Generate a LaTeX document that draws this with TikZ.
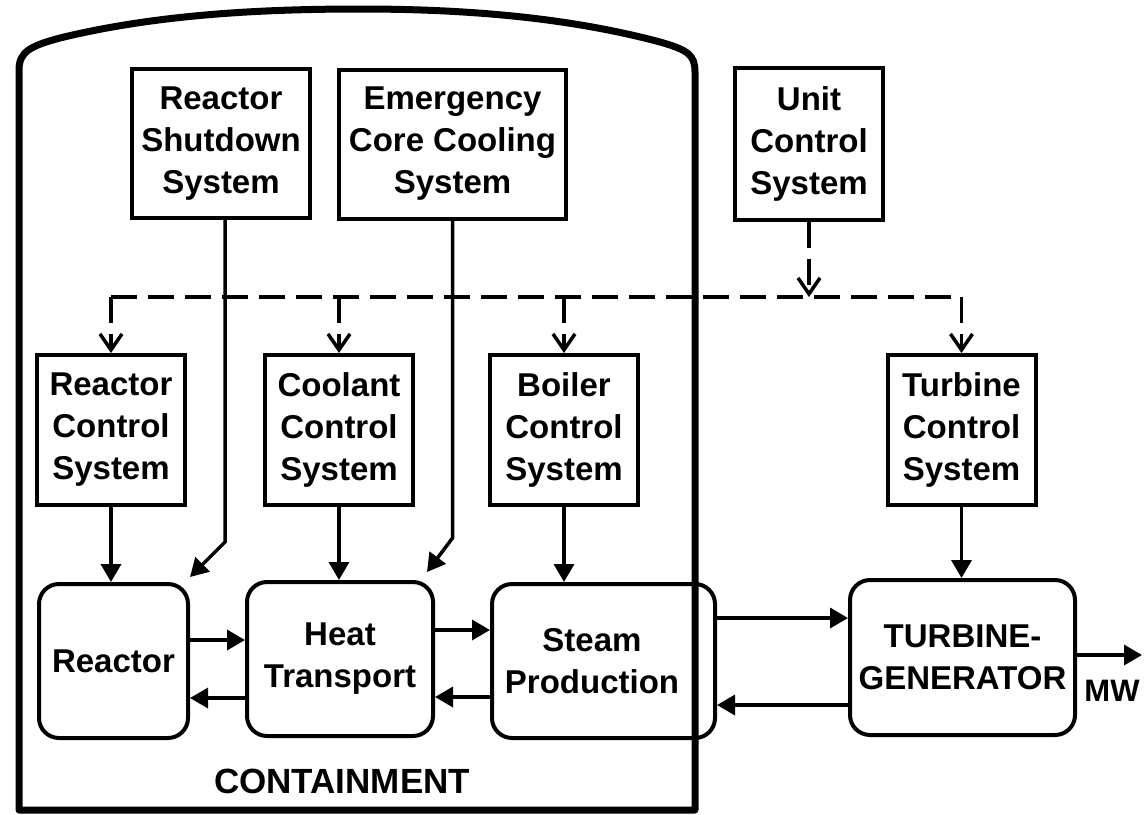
\documentclass[tikz,border=0pt]{standalone}
\usepackage{fontspec}
\setmainfont{Liberation Sans}
\usetikzlibrary{arrows.meta}
\begin{document}
\begin{tikzpicture}[x=1pt,y=-1pt,
  lbl/.style={font=\bfseries\fontsize{33}{42}\selectfont, align=center},
  sqbox/.style={lbl, draw, line width=4pt, inner sep=0pt},
  rbox/.style={lbl, draw, line width=4pt, inner sep=0pt, rounded corners=20pt},
  arr/.style={line width=3.5pt, -{Triangle[length=18pt,width=20pt]}},
  dashline/.style={line width=3.5pt, dash pattern=on 26pt off 11pt},
  dasharr/.style={dashline, -{Straight Barb[length=16pt,width=22pt,line width=3.5pt]}}
]
\useasboundingbox (0,0) rectangle (1147,814);
% top row
\node[sqbox, minimum width=178pt, minimum height=149pt] (rss) at (221,143.5) {Reactor\\Shutdown\\System};
\node[sqbox, minimum width=227pt, minimum height=149pt] (eccs) at (452.5,144) {Emergency\\Core Cooling\\System};
\node[sqbox, minimum width=148pt, minimum height=152pt] (ucs) at (809,144) {Unit\\Control\\System};
% middle row
\node[sqbox, minimum width=148pt, minimum height=150pt] (rcs) at (111,430) {Reactor\\Control\\System};
\node[sqbox, minimum width=148pt, minimum height=150pt] (ccs) at (339,430) {Coolant\\Control\\System};
\node[sqbox, minimum width=148pt, minimum height=150pt] (bcs) at (564,430) {Boiler\\Control\\System};
\node[sqbox, minimum width=148pt, minimum height=150pt] (tcs) at (961.5,430) {Turbine\\Control\\System};
% bottom row
\node[rbox, minimum width=149pt, minimum height=154pt] (reactor) at (113.5,661) {Reactor};
\node[rbox, minimum width=186pt, minimum height=154pt] (heat) at (340,659) {Heat\\Transport};
\node[rbox, minimum width=223pt, minimum height=154pt] (steam) at (603.5,661) {Steam\hspace*{23pt}\\Production\hspace*{23pt}};
\node[rbox, minimum width=225pt, minimum height=155pt] (tg) at (962.5,657.5) {TURBINE-\\GENERATOR};
% containment
\draw[line width=7pt, line join=round] (19,810) -- (19,70)
  .. controls (19,52) and (30,46) .. (60,38)
  .. controls (150,16) and (250,9) .. (360,9)
  .. controls (470,9) and (570,18) .. (660,42)
  .. controls (688,50) and (695,55) .. (695,72) -- (695,810) -- cycle;
\node[font=\bfseries\fontsize{35}{40}\selectfont] (cont) at (342,781) {CONTAINMENT};
% dashed control bus
\coordinate (dl) at (111,297);
\coordinate (dr) at (961.5,297);
\draw[dashline] (dl) -- (dr);
\draw[dasharr] (rcs.north |- dl) -- (rcs.north);
\draw[dasharr] (ccs.north |- dl) -- (ccs.north);
\draw[dasharr] (bcs.north |- dl) -- (bcs.north);
\draw[dasharr] (dr) -- (tcs.north);
\draw[dasharr] (ucs.south) -- (ucs.south |- dl);
% shutdown and ECC lines
\coordinate (rsstip) at (190,577);
\coordinate (eccstip) at (427,572);
\draw[arr] ([xshift=4pt]rss.south) -- ++(0,322) -- (rsstip);
\draw[arr] (eccs.south) -- ++(0,317.5) -- (eccstip);
% control to process
\draw[arr] (rcs.south) -- (rcs.south |- reactor.north);
\draw[arr] (ccs.south) -- (ccs.south |- heat.north);
\draw[arr] (bcs.south) -- (bcs.south |- steam.north);
\draw[arr] (tcs.south) -- (tcs.south |- tg.north);
% process flows
\draw[arr] (reactor.east |- 0,640) -- (heat.west |- 0,640);
\draw[arr] (heat.west |- 0,698) -- (reactor.east |- 0,698);
\draw[arr] (heat.east |- 0,630) -- (steam.west |- 0,630);
\draw[arr] (steam.west |- 0,697) -- (heat.east |- 0,697);
\draw[arr] (steam.east |- 0,618) -- (tg.west |- 0,618);
\draw[arr] (tg.west |- 0,705) -- (steam.east |- 0,705);
\coordinate (mwend) at (1142,655);
\draw[arr] (tg.east |- mwend) -- (mwend);
\node[font=\bfseries\fontsize{31}{36}\selectfont] (mw) at (1112,691) {MW};
\end{tikzpicture}
\end{document}
